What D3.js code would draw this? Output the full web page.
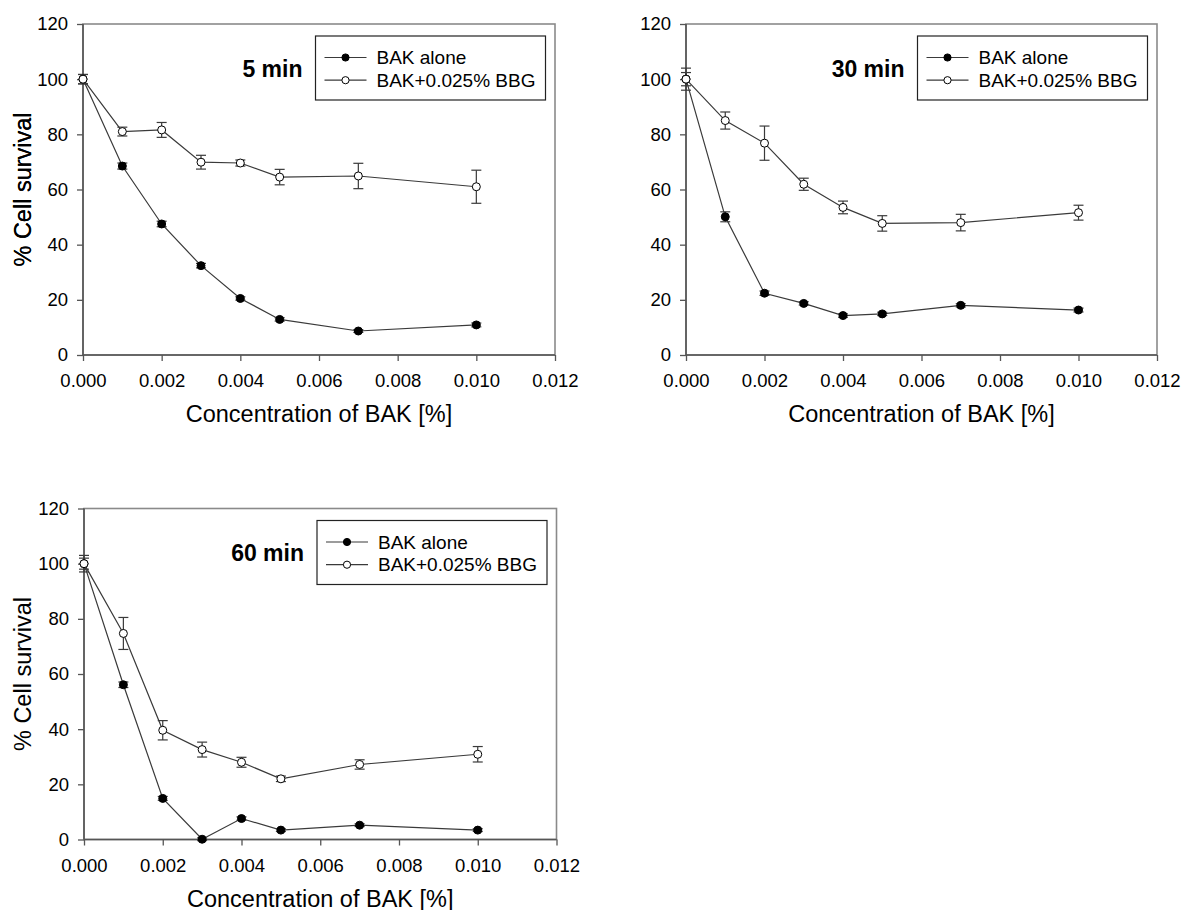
<!DOCTYPE html>
<html>
<head>
<meta charset="utf-8">
<script src="https://cdn.jsdelivr.net/npm/d3@7"></script>
<style>
  html, body { margin: 0; padding: 0; background: #fff; }
  svg { display: block; }
  text { font-family: "Liberation Sans", Arial, Helvetica, sans-serif; fill: #000; }
</style>
</head>
<body>
<svg id="chart" width="1183" height="910"></svg>
<script>
// ---------- data ----------
const concentrations = [0, 0.001, 0.002, 0.003, 0.004, 0.005, 0.007, 0.010];
const seriesNames = ["BAK alone", "BAK+0.025% BBG"];
const panelTitles = ["5 min", "30 min", "60 min"];
const xTicks = [0, 0.002, 0.004, 0.006, 0.008, 0.010, 0.012];
const yTicks = [0, 20, 40, 60, 80, 100, 120];
const xTitle = "Concentration of BAK [%]";
const yTitle = "% Cell survival";

// 5 min
const bakAlone5    = [100, 68.5, 47.5, 32.4, 20.5, 12.9, 8.7, 10.9];
const bakAlone5Err = [1.7, 1.1, 1.0, 0.8, 0.6, 0.6, 0.5, 0.7];
const bakBbg5      = [100, 81.0, 81.6, 69.9, 69.6, 64.5, 64.9, 61.0];
const bakBbg5Err   = [1.7, 1.6, 2.7, 2.5, 1.1, 2.8, 4.6, 6.0];
// 30 min
const bakAlone30    = [100, 50.1, 22.4, 18.7, 14.3, 14.9, 18.0, 16.3];
const bakAlone30Err = [4.0, 1.8, 0.8, 0.6, 0.6, 0.6, 0.6, 0.7];
const bakBbg30      = [100, 85.0, 76.8, 61.9, 53.5, 47.7, 48.0, 51.6];
const bakBbg30Err   = [2.4, 3.1, 6.2, 2.2, 2.3, 2.8, 3.0, 2.7];
// 60 min
const bakAlone60    = [100, 56.1, 14.9, 0.1, 7.6, 3.4, 5.2, 3.4];
const bakAlone60Err = [3.0, 1.0, 0.7, 0.5, 0.6, 0.5, 0.5, 0.5];
const bakBbg60      = [100, 74.7, 39.6, 32.6, 28.0, 22.0, 27.2, 30.9];
const bakBbg60Err   = [2.0, 5.8, 3.5, 2.7, 1.8, 1.0, 1.7, 2.8];

// ---------- layout ----------
const panels = [
  { title: panelTitles[0], left: 83,  top: 24,    width: 472,   height: 331,
    series: [bakAlone5, bakBbg5], errors: [bakAlone5Err, bakBbg5Err] },
  { title: panelTitles[1], left: 686, top: 24,    width: 471,   height: 331,
    series: [bakAlone30, bakBbg30], errors: [bakAlone30Err, bakBbg30Err] },
  { title: panelTitles[2], left: 84,  top: 508.5, width: 472.5, height: 331,
    series: [bakAlone60, bakBbg60], errors: [bakAlone60Err, bakBbg60Err] }
];

const fmtX = d3.format(".3f");
const lineColor = "#3a3a3a";
const axisColor = "#555";
const frameColor = "#8a8a8a";
const markerR = 4;
const capHalf = 5;

const svg = d3.select("#chart");

panels.forEach(p => {
  const g = svg.append("g").attr("transform", `translate(${p.left},${p.top})`);
  const x = d3.scaleLinear().domain([0, 0.012]).range([0, p.width]);
  const y = d3.scaleLinear().domain([0, 120]).range([p.height, 0]);

  // frame (top/right)
  g.append("rect")
    .attr("x", 0).attr("y", 0).attr("width", p.width).attr("height", p.height)
    .attr("fill", "none").attr("stroke", frameColor).attr("stroke-width", 1.6);

  // y axis
  const yAxis = g.append("g")
    .call(d3.axisLeft(y).tickValues(yTicks).tickSize(6).tickPadding(9).tickFormat(d3.format("d")));
  // x axis
  const xAxis = g.append("g").attr("transform", `translate(0,${p.height})`)
    .call(d3.axisBottom(x).tickValues(xTicks).tickSize(6).tickPadding(9).tickFormat(fmtX));
  [xAxis, yAxis].forEach(a => {
    a.select(".domain").attr("stroke", axisColor).attr("stroke-width", 1.6)
      .attr("d", a === xAxis ? `M0,0H${p.width}` : `M0,${p.height}V0`);
    a.selectAll(".tick line").attr("stroke", axisColor).attr("stroke-width", 1.3);
    a.selectAll(".tick text").attr("font-size", "18.5px").attr("fill", "#000")
      .attr("font-family", "'Liberation Sans', Arial, sans-serif");
  });
  xAxis.selectAll(".tick text").attr("dy", "0.71em").attr("y", 19);

  // axis titles
  g.append("text")
    .attr("x", p.width / 2).attr("y", p.height + 67)
    .attr("text-anchor", "middle").attr("font-size", "23.5px")
    .text(xTitle);
  g.append("text")
    .attr("transform", `translate(${-p.left + 31},${p.height / 2}) rotate(-90)`)
    .attr("text-anchor", "middle").attr("font-size", "23.5px")
    .text(yTitle);

  // series lines
  const line = d3.line().x((d, i) => x(concentrations[i])).y(d => y(d));
  p.series.forEach((s, k) => {
    g.append("path").datum(s)
      .attr("d", line).attr("fill", "none")
      .attr("stroke", lineColor).attr("stroke-width", 1.2);
  });

  // error bars
  p.series.forEach((s, k) => {
    const eb = g.append("g").attr("stroke", lineColor).attr("stroke-width", 1.2);
    s.forEach((v, i) => {
      const e = p.errors[k][i];
      const cx = x(concentrations[i]);
      const y1 = y(v + e), y2 = y(v - e);
      eb.append("line").attr("x1", cx).attr("x2", cx).attr("y1", y1).attr("y2", y2);
      eb.append("line").attr("x1", cx - capHalf).attr("x2", cx + capHalf).attr("y1", y1).attr("y2", y1);
      eb.append("line").attr("x1", cx - capHalf).attr("x2", cx + capHalf).attr("y1", y2).attr("y2", y2);
    });
  });

  // markers
  p.series.forEach((s, k) => {
    g.append("g").selectAll("circle").data(s).join("circle")
      .attr("cx", (d, i) => x(concentrations[i]))
      .attr("cy", d => y(d))
      .attr("r", markerR)
      .attr("fill", k === 0 ? "#000" : "#fff")
      .attr("stroke", "#000").attr("stroke-width", 1);
  });

  // legend
  const lgW = 230, lgH = 64;
  const lgX = p.width - 9.5 - lgW, lgY = 12;
  const lg = g.append("g").attr("transform", `translate(${lgX},${lgY})`);
  lg.append("rect").attr("width", lgW).attr("height", lgH)
    .attr("fill", "#fff").attr("stroke", "#222").attr("stroke-width", 1.2);
  seriesNames.forEach((name, k) => {
    const ry = 21.5 + k * 22.7;
    lg.append("line").attr("x1", 9).attr("x2", 51).attr("y1", ry).attr("y2", ry)
      .attr("stroke", lineColor).attr("stroke-width", 1.2);
    lg.append("circle").attr("cx", 30).attr("cy", ry).attr("r", 3.6)
      .attr("fill", k === 0 ? "#000" : "#fff").attr("stroke", "#000").attr("stroke-width", 1);
    lg.append("text").attr("x", 61).attr("y", ry).attr("dy", "0.35em")
      .attr("font-size", "19px").text(name);
  });

  // panel title
  g.append("text")
    .attr("x", lgX - 13).attr("y", lgY + 40.5)
    .attr("text-anchor", "end").attr("font-size", "23px").attr("font-weight", "bold")
    .text(p.title);
});
</script>
</body>
</html>
